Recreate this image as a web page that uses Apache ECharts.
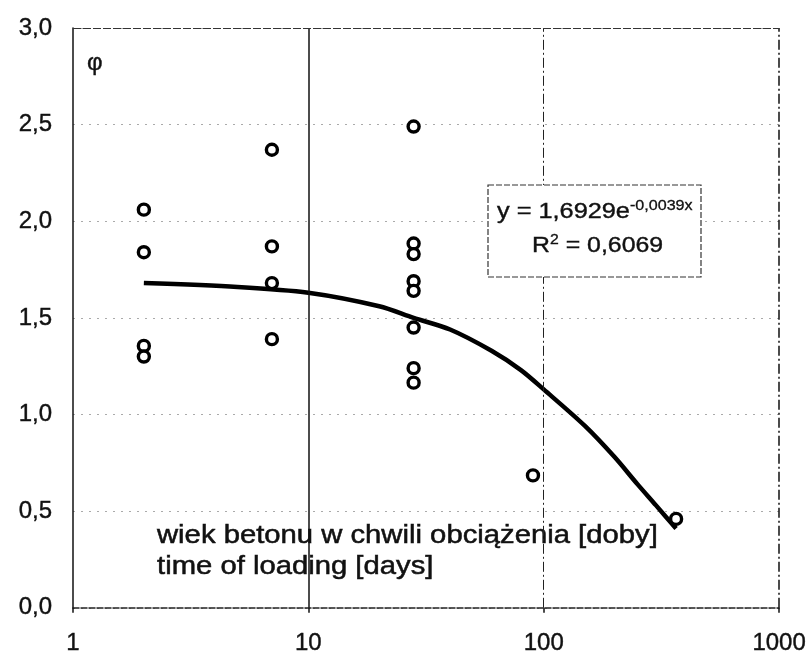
<!DOCTYPE html>
<html>
<head>
<meta charset="utf-8">
<script src="https://cdn.jsdelivr.net/npm/echarts@6/dist/echarts.min.js"></script>
<style>
html,body{margin:0;padding:0;background:#fff;}
#c{width:809px;height:656px;}
</style>
</head>
<body>
<div id="c"></div>
<script>
// ---- data ----
const age2 = [2.06, 1.84, 1.355, 1.30];
const age7 = [2.37, 1.87, 1.68, 1.39];
const age28 = [2.49, 1.885, 1.83, 1.69, 1.64, 1.45, 1.24, 1.165];
const age90 = [0.685];
const age365 = [0.46];
const ages = [2, 7, 28, 90, 365];
const groups = [age2, age7, age28, age90, age365];

const trendAge = [2, 5, 10, 20, 28, 40, 60, 80, 100, 150, 200, 250, 300, 365];
const trendPhi = [1.68, 1.66, 1.63, 1.56, 1.50, 1.44, 1.33, 1.23, 1.13, 0.94, 0.78, 0.64, 0.53, 0.41];

const yTicks = [0, 0.5, 1, 1.5, 2, 2.5, 3];
const xTicks = [1, 10, 100, 1000];

const points = [];
groups.forEach((g, i) => g.forEach(v => points.push([ages[i], v])));
const trend = trendAge.map((a, i) => [a, trendPhi[i]]);

const FONT = "'Liberation Sans', Arial, Helvetica, sans-serif";
const chart = echarts.init(document.getElementById('c'), null, {renderer: 'canvas'});

const labelStyle = {
  color: '#111', fontFamily: FONT, fontSize: 24,
  textBorderColor: '#111', textBorderWidth: 0.4
};

chart.setOption({
  animation: false,
  backgroundColor: '#ffffff',
  grid: {left: 73, right: 28, top: 28, bottom: 46, containLabel: false},
  xAxis: {
    type: 'log', logBase: 10, min: xTicks[0], max: xTicks[xTicks.length - 1],
    axisLine: {show: true, onZero: false, lineStyle: {color: '#222', width: 1.5, type: [6, 2]}},
    axisTick: {show: true, length: 5, lineStyle: {color: '#111', width: 1.5}},
    minorTick: {show: false},
    splitLine: {show: false},
    axisLabel: Object.assign({margin: 24, formatter: v => String(v)}, labelStyle)
  },
  yAxis: {
    type: 'value', min: yTicks[0], max: yTicks[yTicks.length - 1], interval: 0.5,
    axisLine: {show: true, lineStyle: {color: '#111', width: 1.5}},
    axisTick: {show: false},
    splitLine: {show: true, lineStyle: {color: '#aaa', width: 1, type: [2, 6]}},
    axisLabel: Object.assign({margin: 21, formatter: v => v.toFixed(1).replace('.', ',')}, labelStyle)
  },
  series: [
    {
      type: 'line', data: [], silent: true,
      markLine: {
        silent: true, symbol: 'none', label: {show: false},
        data: [
          {xAxis: 10, lineStyle: {color: '#111', width: 1.5, type: 'solid'}},
          {xAxis: 100, lineStyle: {color: '#222', width: 1, type: [10, 3, 2, 3]}},
          {xAxis: 1000, lineStyle: {color: '#111', width: 1.5, type: [10, 3, 2, 3]}},
          {yAxis: 3, lineStyle: {color: '#333', width: 1, type: [8, 2]}}
        ]
      }
    },
    {
      type: 'line', data: trend, smooth: 0.3, showSymbol: false, silent: true,
      lineStyle: {color: '#000', width: 4.5}, z: 3
    },
    {
      type: 'scatter', data: points, symbol: 'circle', symbolSize: 11,
      itemStyle: {color: '#fff', borderColor: '#000', borderWidth: 3.4, opacity: 1}, z: 4
    }
  ],
  graphic: [
    {type: 'text', x: 87, y: 51, style: {text: 'φ', font: '24px ' + FONT, fill: '#111', stroke: '#111', lineWidth: 0.4}},
    {type: 'text', x: 157, y: 524, scaleX: 1.17, style: {text: 'wiek betonu w chwili obciążenia [doby]', font: '25px ' + FONT, fill: '#111', stroke: '#111', lineWidth: 0.5}},
    {type: 'text', x: 157, y: 555, scaleX: 1.17, style: {text: 'time of loading [days]', font: '25px ' + FONT, fill: '#111', stroke: '#111', lineWidth: 0.5}},
    {type: 'rect', shape: {x: 488, y: 185, width: 213, height: 92},
      style: {fill: '#fff', stroke: '#333', lineWidth: 1.2, lineDash: [6, 2]}, z: 10},
    {type: 'text', x: 497, y: 199, z: 11, scaleX: 1.15, style: {
      text: '{a|y = 1,6929e}{s|-0,0039x}',
      rich: {
        a: {font: '22px ' + FONT, fill: '#111', stroke: '#111', lineWidth: 0.4, lineHeight: 26},
        s: {font: '14px ' + FONT, fill: '#111', stroke: '#111', lineWidth: 0.3, verticalAlign: 'top', lineHeight: 26}
      }
    }},
    {type: 'text', x: 532, y: 233, z: 11, scaleX: 1.13, style: {
      text: '{a|R}{s|2}{a| = 0,6069}',
      rich: {
        a: {font: '22px ' + FONT, fill: '#111', stroke: '#111', lineWidth: 0.4, lineHeight: 26},
        s: {font: '14px ' + FONT, fill: '#111', stroke: '#111', lineWidth: 0.3, verticalAlign: 'top', lineHeight: 26}
      }
    }}
  ]
});
</script>
</body>
</html>
